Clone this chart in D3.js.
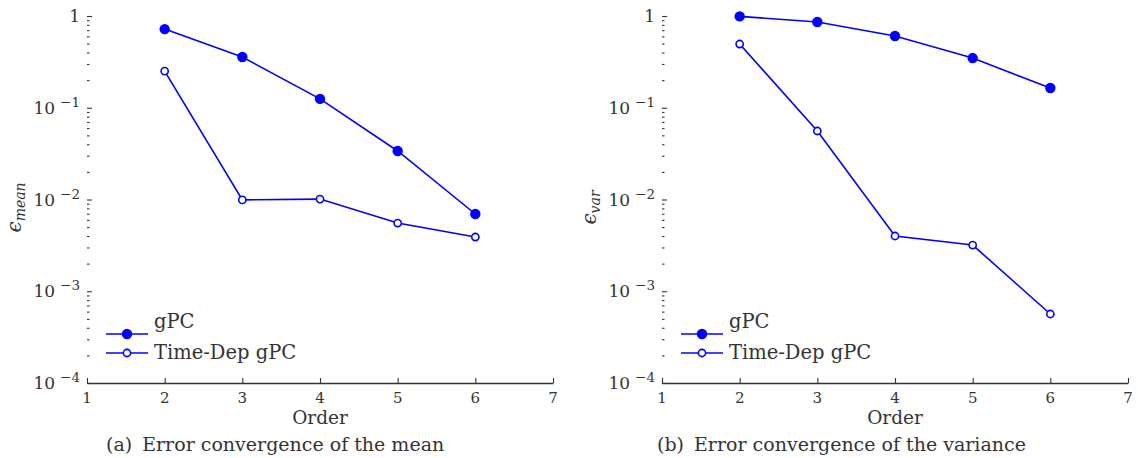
<!DOCTYPE html>
<html>
<head>
<meta charset="utf-8">
<script src="https://cdn.jsdelivr.net/npm/d3@7"></script>
<style>
  body { margin: 0; background: #fff; }
  text { font-family: "DejaVu Serif", "Liberation Serif", serif; fill: #333; }
</style>
</head>
<body>
<svg id="vis"></svg>
<script>
// datos
const orders = [2, 3, 4, 5, 6];
const meanGpc = [0.72, 0.357, 0.125, 0.0338, 0.00695];
const meanTimeDep = [0.251, 0.0099, 0.0101, 0.00554, 0.0039];
const varGpc = [0.99, 0.86, 0.605, 0.348, 0.164];
const varTimeDep = [0.495, 0.0558, 0.0040, 0.00319, 0.000565];
const xTicks = [1, 2, 3, 4, 5, 6, 7];
const yTicks = [1, 0.1, 0.01, 0.001, 0.0001];
const yTickLabels = [["1", ""], ["10", "−1"], ["10", "−2"], ["10", "−3"], ["10", "−4"]];
const legendNames = ["gPC", "Time-Dep gPC"];

const WIDTH = 1138, HEIGHT = 458;
const BLUE = "#0000ff";
const AXIS = "#333";

const svg = d3.select("#vis").attr("width", WIDTH).attr("height", HEIGHT);

const panels = [
  { left: 87, right: 553, sub: "mean", series: [meanGpc, meanTimeDep], caption: "(a)", capText: "Error convergence of the mean", capX: 106 },
  { left: 662, right: 1128, sub: "var", series: [varGpc, varTimeDep], caption: "(b)", capText: "Error convergence of the variance", capX: 657 }
];
const yTop = 16, yBottom = 383;

panels.forEach(p => {
  const g = svg.append("g");
  const x = d3.scaleLinear().domain([1, 7]).range([p.left, p.right]);
  const y = d3.scaleLog().domain([1e-4, 1]).range([yBottom, yTop]);

  // eje y con ticks hacia adentro (menores y mayores)
  const minor = [];
  for (let e = -4; e < 0; e++) for (let k = 2; k <= 9; k++) minor.push(k * Math.pow(10, e));
  const ay = g.append("g").attr("transform", `translate(${p.left},0)`);
  ay.call(d3.axisLeft(y).tickValues(minor).tickSize(-2.5).tickFormat(""));
  ay.append("g").call(d3.axisLeft(y).tickValues(yTicks).tickSize(-5).tickFormat(""));
  ay.selectAll("path.domain").attr("stroke", AXIS).attr("stroke-width", 1.6);
  ay.selectAll("line").attr("stroke", AXIS).attr("stroke-width", 1.1);
  ay.selectAll("g > g > path.domain").remove();

  yTicks.forEach((v, i) => {
    const [base, exp] = yTickLabels[i];
    const t = g.append("text")
      .attr("x", p.left - 7)
      .attr("y", y(v) + 6)
      .attr("text-anchor", "end")
      .attr("font-size", 17);
    t.append("tspan").text(base);
    if (exp) t.append("tspan").attr("dx", 5).attr("dy", -7).attr("font-size", 13.5).text(exp);
  });

  // eje x
  const ax = g.append("g").attr("transform", `translate(0,${yBottom})`);
  ax.call(d3.axisBottom(x).tickValues(xTicks).tickSize(-5).tickSizeOuter(0).tickFormat(""));
  ax.selectAll("path.domain").attr("stroke", AXIS).attr("stroke-width", 1.6);
  ax.selectAll("line").attr("stroke", AXIS).attr("stroke-width", 1.1);
  g.selectAll(".xl").data(xTicks).join("text")
    .attr("class", "xl")
    .attr("x", d => x(d)).attr("y", yBottom + 20)
    .attr("text-anchor", "middle").attr("font-size", 15)
    .text(d => d);

  g.append("text").attr("x", (p.left + p.right) / 2).attr("y", yBottom + 41)
    .attr("text-anchor", "middle").attr("font-size", 18.5).text("Order");

  // etiqueta y
  const yl = g.append("text")
    .attr("transform", `translate(${p.left - 66},${(yTop + yBottom) / 2 + 8}) rotate(-90)`)
    .attr("text-anchor", "middle").attr("font-style", "italic");
  yl.append("tspan").attr("font-size", 20).text("ϵ");
  yl.append("tspan").attr("font-size", 14).attr("dy", 4).text(p.sub);

  // caption
  const cap = g.append("text").attr("x", p.capX).attr("y", yBottom + 68).attr("font-size", 19);
  cap.append("tspan").text(p.caption);
  cap.append("tspan").attr("dx", 10).text(p.capText);

  // series
  const line = d3.line().x((d, i) => x(orders[i])).y(d => y(d));
  p.series.forEach((vals, s) => {
    g.append("path").datum(vals).attr("d", line)
      .attr("fill", "none").attr("stroke", BLUE).attr("stroke-width", 1.6);
    g.selectAll(".m" + s).data(vals).join("circle")
      .attr("class", "m" + s)
      .attr("cx", (d, i) => x(orders[i])).attr("cy", d => y(d))
      .attr("r", s === 0 ? 4.4 : 3.6)
      .attr("fill", s === 0 ? BLUE : "#fff")
      .attr("stroke", BLUE).attr("stroke-width", 1.6);
  });

  // leyenda
  const lx = p.left + 19;
  const rows = [{ ly: 334, ty: 328 }, { ly: 353, ty: 359 }];
  legendNames.forEach((name, s) => {
    const r = rows[s];
    g.append("line").attr("x1", lx).attr("x2", lx + 42).attr("y1", r.ly).attr("y2", r.ly)
      .attr("stroke", BLUE).attr("stroke-width", 1.6);
    g.append("circle").attr("cx", lx + 21).attr("cy", r.ly)
      .attr("r", s === 0 ? 4.4 : 3.6)
      .attr("fill", s === 0 ? BLUE : "#fff")
      .attr("stroke", BLUE).attr("stroke-width", 1.6);
    g.append("text").attr("x", lx + 48).attr("y", r.ty).attr("font-size", 19.5).text(name);
  });
});
</script>
</body>
</html>
